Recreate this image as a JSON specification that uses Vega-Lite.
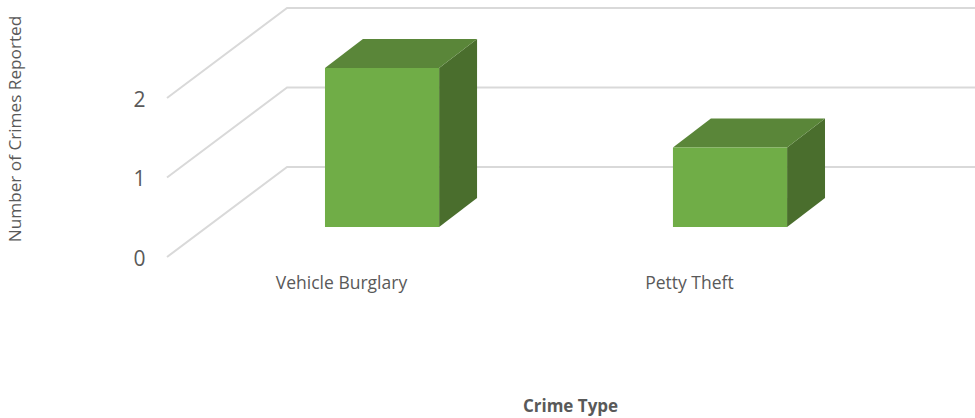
{
"$schema":"https://vega.github.io/schema/vega-lite/v6.json",
"width":808,"height":257,
"autosize":{"type":"none"},
"padding":{"left":167,"top":0,"right":0,"bottom":161},
"background":"white",
"config":{"view":{"stroke":null},"font":"Open Sans"},
"datasets":{
"grid":[
{"level":0,"x":0,"y":0},{"level":0,"x":0.345,"y":1.132},{"level":0,"x":2.322,"y":1.132},
{"level":1,"x":0,"y":1},{"level":1,"x":0.345,"y":2.132},{"level":1,"x":2.322,"y":2.132},
{"level":2,"x":0,"y":2},{"level":2,"x":0.345,"y":3.132},{"level":2,"x":2.322,"y":3.132}
],
"front":[
{"crime":"Vehicle Burglary","x":0.454,"x2":0.782,"y":0.377,"y2":2.377},
{"crime":"Petty Theft","x":1.454,"x2":1.782,"y":0.377,"y2":1.377}
],
"top":[
{"crime":"Vehicle Burglary","y":2.377,"x":0.454,"x2":0.782},
{"crime":"Vehicle Burglary","y":2.742,"x":0.563,"x2":0.891},
{"crime":"Petty Theft","y":1.377,"x":1.454,"x2":1.782},
{"crime":"Petty Theft","y":1.742,"x":1.563,"x2":1.891}
],
"side":[
{"crime":"Vehicle Burglary","x":0.782,"y":0.377,"y2":2.377},
{"crime":"Vehicle Burglary","x":0.891,"y":0.742,"y2":2.742},
{"crime":"Petty Theft","x":1.782,"y":0.377,"y2":1.377},
{"crime":"Petty Theft","x":1.891,"y":0.742,"y2":1.742}
]
},
"layer":[
{"data":{"name":"grid"},
 "mark":{"type":"line","color":"#D9D9D9","strokeWidth":2,"clip":false},
 "encoding":{
  "x":{"field":"x","type":"quantitative","scale":{"domain":[0,2.322],"nice":false,"zero":false},
   "axis":{"values":[0.5,1.5],"labelExpr":"datum.value<1?'Vehicle Burglary':'Petty Theft'","title":"Crime Type","grid":false,"ticks":false,"domain":false,"labelPadding":17,"labelFontSize":17.5,"labelColor":"#595959","titleFontSize":17,"titleFontWeight":"bold","titleColor":"#595959","titleX":403,"titleY":141,"labelFont":"Open Sans","titleFont":"Open Sans"}},
  "y":{"field":"y","type":"quantitative","scale":{"domain":[0,3.2327],"nice":false,"zero":false},
   "axis":{"values":[0,1,2],"format":"d","title":"Number of Crimes Reported","grid":false,"ticks":false,"domain":false,"labelPadding":22,"labelOffset":2.5,"labelFontSize":21,"labelColor":"#595959","titleFontSize":17.2,"titleFontWeight":"normal","titleColor":"#595959","titleX":-143,"titleY":128.5,"labelFont":"Open Sans","titleFont":"Open Sans"}},
  "detail":{"field":"level"}
 }},
{"data":{"name":"side"},
 "mark":{"type":"area","color":"#4A6E2D"},
 "encoding":{"x":{"field":"x","type":"quantitative"},"y":{"field":"y","type":"quantitative"},"y2":{"field":"y2"},"detail":{"field":"crime"}}},
{"data":{"name":"top"},
 "mark":{"type":"area","orient":"horizontal","color":"#5A8639"},
 "encoding":{"y":{"field":"y","type":"quantitative"},"x":{"field":"x","type":"quantitative"},"x2":{"field":"x2"},"detail":{"field":"crime"}}},
{"data":{"name":"front"},
 "mark":{"type":"rect","color":"#70AD47"},
 "encoding":{"x":{"field":"x","type":"quantitative"},"x2":{"field":"x2"},"y":{"field":"y","type":"quantitative"},"y2":{"field":"y2"}}}
]
}
